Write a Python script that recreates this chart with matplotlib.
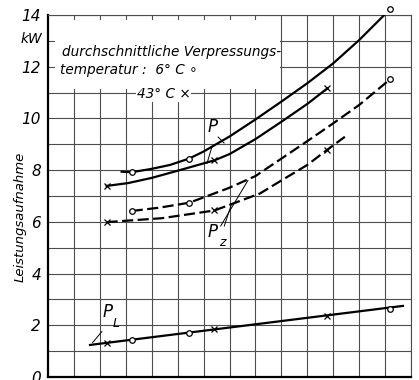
import matplotlib
matplotlib.use('Agg')  # no display here
import matplotlib.pyplot as plt
from matplotlib.patches import Rectangle

plt.rcParams['font.family'] = ['Liberation Sans Narrow', 'DejaVu Sans']

# marker positions along the (unlabelled) x axis, grid units
x_6 = [3.23, 5.45, 13.19]
x_43 = [2.26, 6.42, 10.77]

# values at the markers, kW
p_6 = [7.92, 8.45, 14.22]
p_43 = [7.39, 8.38, 11.16]
pz_6 = [6.42, 6.74, 11.51]
pz_43 = [5.99, 6.44, 8.79]
pl_6 = [1.44, 1.72, 2.63]
pl_43 = [1.32, 1.84, 2.36]

# traced curves
p6_x = [2.84, 3.23, 4.0, 4.7, 5.45, 6.0, 7.0, 8.0, 9.0, 10.0, 11.0, 12.0, 13.19]
p6_y = [7.94, 7.92, 8.05, 8.2, 8.45, 8.72, 9.3, 9.96, 10.65, 11.36, 12.13, 13.03, 14.22]
p43_x = [2.26, 3.09, 4.0, 5.01, 6.42, 7.0, 8.0, 9.0, 10.0, 10.77]
p43_y = [7.39, 7.50, 7.7, 7.98, 8.38, 8.62, 9.2, 9.87, 10.56, 11.16]
pz6_x = [3.23, 4.3, 5.45, 6.95, 8.0, 9.91, 11.0, 12.0, 13.19]
pz6_y = [6.42, 6.55, 6.74, 7.30, 7.77, 9.06, 9.81, 10.52, 11.51]
pz43_x = [2.26, 4.38, 6.42, 8.18, 9.0, 10.0, 10.77, 11.45]
pz43_y = [5.99, 6.14, 6.44, 7.10, 7.6, 8.2, 8.79, 9.29]
pl_x = [1.62, 13.69]
pl_y = [1.24, 2.75]

y_ticks = [0, 2, 4, 6, 8, 10, 12, 14]

fig = plt.figure(figsize=(4.19, 3.8), dpi=100)
ax = fig.add_axes([48/419, 3/380, 363/419, 362/380])
ax.set_xlim(0, 14)
ax.set_ylim(0, 14)

# the squared paper
for i in range(1, 15):
    ax.axvline(i, color='0.3', lw=0.8, zorder=1)
for j in range(1, 15):
    ax.axhline(j, color='0.3', lw=0.8, zorder=1)
# white field behind the legend text
ax.add_patch(Rectangle((0.28, 11.12), 8.67, 2.68, facecolor='white',
                       edgecolor='none', zorder=2))

ax.set_xticks([])
ax.set_yticks(y_ticks)
ax.set_yticklabels([str(t) for t in y_ticks], fontstyle='italic', fontsize=11)
ax.tick_params(axis='y', length=0, pad=5)
for s in ['left', 'bottom']:
    ax.spines[s].set_linewidth(1.6)
for s in ['top', 'right']:
    ax.spines[s].set_linewidth(0.8)
    ax.spines[s].set_color('0.3')

dash = (0, (5, 2))
ax.plot(p6_x, p6_y, color='black', lw=1.6, zorder=3)
ax.plot(p43_x, p43_y, color='black', lw=1.6, zorder=3)
ax.plot(pz6_x, pz6_y, color='black', lw=1.6, ls=dash, zorder=3)
ax.plot(pz43_x, pz43_y, color='black', lw=1.6, ls=dash, zorder=3)
ax.plot(pl_x, pl_y, color='black', lw=1.6, zorder=3)

for ys in [p_6, pz_6, pl_6]:
    ax.plot(x_6, ys, 'o', ms=4, mfc='white', mec='black', mew=0.9, zorder=4, clip_on=False)
for ys in [p_43, pz_43, pl_43]:
    ax.plot(x_43, ys, 'x', ms=4, color='black', mew=0.9, zorder=4, clip_on=False)

# curve names with their leader lines
ax.text(6.36, 9.67, 'P', fontsize=12, fontstyle='italic', ha='center', va='center', zorder=5)
ax.plot([6.56, 6.79], [9.28, 9.05], color='black', lw=0.7, zorder=5)
ax.plot([6.32, 6.13], [8.89, 8.26], color='black', lw=0.7, zorder=5)
ax.text(6.36, 5.62, 'P', fontsize=12, fontstyle='italic', ha='center', va='center', zorder=5)
ax.text(6.72, 5.22, 'z', fontsize=9, fontstyle='italic', ha='center', va='center', zorder=5)
ax.plot([6.66, 7.71], [5.84, 7.60], color='black', lw=0.7, zorder=5)
ax.plot([6.80, 7.08], [5.84, 6.70], color='black', lw=0.7, zorder=5)
ax.text(2.31, 2.50, 'P', fontsize=12, fontstyle='italic', ha='center', va='center', zorder=5)
ax.text(2.62, 2.08, 'L', fontsize=9, fontstyle='italic', ha='center', va='center', zorder=5)
ax.plot([2.08, 1.72], [1.76, 1.33], color='black', lw=0.7, zorder=5)

# legend text
ax.text(0.54, 12.57, 'durchschnittliche Verpressungs-', fontsize=9.8, fontstyle='italic',
        va='center', zorder=5)
ax.text(0.46, 11.87, 'temperatur :  6° C \u2218', fontsize=9.8, fontstyle='italic',
        va='center', zorder=5)
ax.text(3.43, 10.95, '43° C \u00d7', fontsize=9.8, fontstyle='italic', va='center', zorder=5,
        bbox=dict(facecolor='white', edgecolor='none', pad=0.5))

fig.text(31/419, 1 - 39/380, 'kW', fontsize=10, fontstyle='italic', ha='center', va='center')
fig.text(20/419, 1 - 217/380, 'Leistungsaufnahme', fontsize=9.5, fontstyle='italic',
         rotation=90, ha='center', va='center')

fig.savefig('out.png', dpi=100)
